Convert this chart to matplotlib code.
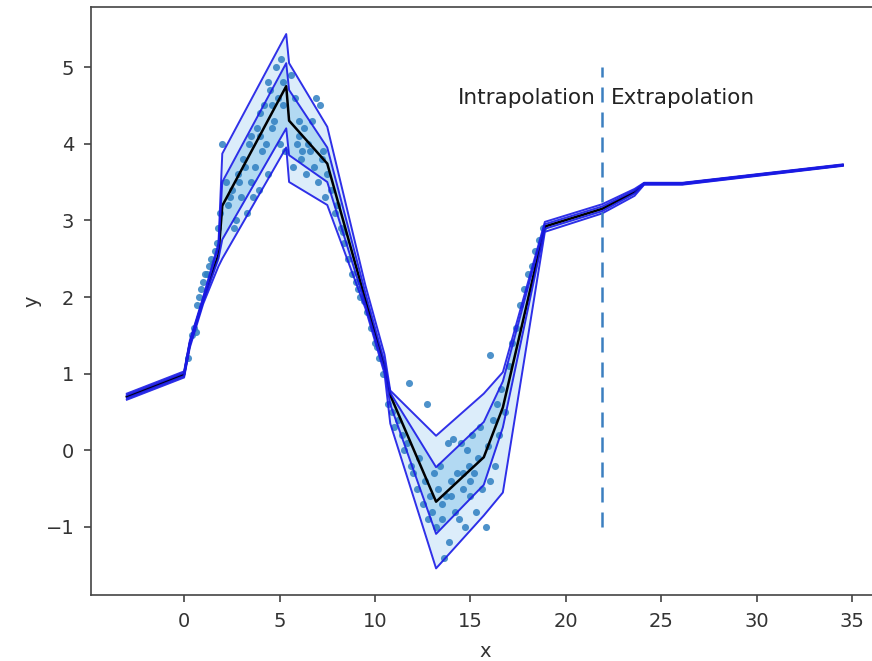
import matplotlib
matplotlib.use("Agg")
import matplotlib.pyplot as plt
import numpy as np

# Prediction grid and quantile predictions
x_grid = [-3.0, 0.0, 0.3, 1.0, 1.8, 2.0, 5.35, 5.5, 7.5, 9.5, 10.5, 10.8, 13.2, 15.7, 16.7, 18.9, 21.9, 23.6, 24.1, 26.1, 34.5]
q05 = [0.66, 0.95, 1.34, 1.91, 2.40, 2.50, 3.95, 3.50, 3.20, 1.85, 1.00, 0.35, -1.54, -0.85, -0.55, 2.85, 3.09, 3.32, 3.465, 3.465, 3.71]
q25 = [0.68, 0.97, 1.37, 1.94, 2.50, 2.75, 4.20, 3.85, 3.50, 1.90, 1.05, 0.60, -1.09, -0.45, 0.30, 2.89, 3.12, 3.35, 3.47, 3.47, 3.715]
q50 = [0.70, 0.99, 1.39, 1.96, 2.55, 3.19, 4.75, 4.30, 3.74, 1.96, 1.10, 0.72, -0.67, -0.09, 0.56, 2.92, 3.15, 3.37, 3.48, 3.48, 3.72]
q75 = [0.72, 1.01, 1.41, 1.98, 2.65, 3.50, 5.05, 4.70, 3.95, 2.05, 1.15, 0.75, -0.22, 0.37, 0.90, 2.95, 3.18, 3.39, 3.485, 3.485, 3.725]
q95 = [0.74, 1.03, 1.43, 2.00, 2.70, 3.87, 5.43, 5.05, 4.22, 2.15, 1.25, 0.78, 0.19, 0.74, 1.02, 2.98, 3.21, 3.41, 3.49, 3.49, 3.73]

# Observed training points
pts_x = [0.2, 0.4, 0.5, 0.6, 0.7, 0.8, 0.9, 1.0, 1.1, 1.2, 1.3, 1.4, 1.5, 1.6, 1.7, 1.8, 1.9,
         2.0, 2.2, 2.3, 2.5, 2.6, 2.7, 2.8, 3.0, 3.1, 3.3, 3.4, 3.5, 3.6, 3.7, 3.8, 3.9, 4.0, 4.1,
         4.2, 4.3, 4.4, 4.4, 4.5, 4.6, 4.7, 4.8, 4.9, 5.0, 5.1, 5.2, 5.3,
         2.4, 2.9, 3.2, 3.5, 4.0, 4.6, 5.2,
         5.6, 5.7, 5.8, 5.9, 6.0, 6.1, 6.2, 6.3, 6.4, 6.5, 6.6, 6.8, 6.9, 7.0, 7.1, 7.2, 7.4, 7.5,
         6.0, 6.7, 7.3,
         7.7, 7.9, 8.0, 8.2, 8.3, 8.4, 8.6, 8.8, 9.0, 9.1, 9.2, 9.4, 9.6, 9.8, 10.0, 10.1, 10.2, 10.4,
         10.7, 10.9, 11.0, 11.2, 11.4, 11.5, 11.7, 11.8, 11.9, 12.0, 12.2, 12.3, 12.5, 12.6, 12.7, 12.8,
         12.9, 13.0, 13.1, 13.2, 13.3, 13.4, 13.5, 13.6, 13.7, 13.8, 13.9, 14.0, 14.1, 14.2, 14.3,
         14.4, 14.5, 14.6, 14.7, 14.8, 14.9, 15.0, 15.1, 15.2, 15.3, 15.4, 15.5, 15.6, 15.8, 15.9,
         13.5, 14.0, 14.6, 15.0,
         16.0, 16.0, 16.2, 16.3, 16.4, 16.5, 16.6, 16.8, 17.0, 17.2, 17.4, 17.6, 17.8, 18.0, 18.2,
         18.4, 18.6, 18.8]
pts_y = [1.2, 1.5, 1.6, 1.55, 1.9, 2.0, 2.1, 2.2, 2.3, 2.3, 2.4, 2.5, 2.45, 2.6, 2.7, 2.9, 3.1,
         4.0, 3.5, 3.2, 3.4, 2.9, 3.0, 3.6, 3.3, 3.8, 3.1, 4.0, 3.5, 3.3, 3.7, 4.2, 3.4, 4.4, 3.9,
         4.5, 4.0, 3.6, 4.8, 4.7, 4.2, 4.3, 5.0, 4.6, 4.0, 5.1, 4.5, 3.9,
         3.3, 3.5, 3.7, 4.1, 4.1, 4.5, 4.8,
         4.9, 3.7, 4.6, 4.0, 4.3, 3.8, 3.9, 4.2, 3.6, 4.0, 3.9, 3.7, 4.6, 3.5, 4.5, 3.8, 3.3, 3.6,
         4.1, 4.3, 3.9,
         3.4, 3.1, 3.2, 2.9, 2.85, 2.7, 2.5, 2.3, 2.2, 2.1, 2.0, 1.95, 1.8, 1.6, 1.4, 1.35, 1.2, 1.0,
         0.6, 0.5, 0.3, 0.4, 0.2, 0.0, 0.1, 0.88, -0.2, -0.3, -0.5, -0.1, -0.7, -0.4, 0.6, -0.9,
         -0.6, -0.8, -0.3, -1.0, -0.5, -0.2, -0.9, -1.4, -0.6, 0.1, -1.2, -0.4, 0.15, -0.8, -0.3,
         -0.9, 0.1, -0.5, -1.0, 0.0, -0.2, -0.6, 0.2, -0.3, -0.8, -0.1, 0.3, -0.5, -1.0, 0.05,
         -0.7, -0.6, -0.3, -0.4,
         -0.4, 1.25, 0.4, -0.2, 0.6, 0.2, 0.8, 0.5, 1.1, 1.4, 1.6, 1.9, 2.1, 2.3, 2.4,
         2.6, 2.75, 2.9]

split_x = 21.9
text_y = 4.6

fig = plt.figure(figsize=(8.72, 6.61), dpi=100)
ax = fig.add_axes([0.1044, 0.0995, 0.903, 0.8896])

ax.fill_between(x_grid, q05, q95, color='#dcedfa', zorder=1, linewidth=0)
ax.fill_between(x_grid, q25, q75, color='#b2d9f2', zorder=1.5, linewidth=0)
ax.scatter(pts_x, pts_y, s=26, color='#2f7fc1', alpha=0.85, zorder=2, linewidths=0)
ax.plot(x_grid, q50, color='black', lw=1.8, zorder=3)
for q in (q05, q25, q75, q95):
    ax.plot(x_grid, q, color='#1a1ae6', lw=1.4, alpha=0.9, zorder=4)

ax.vlines(split_x, -1, 5, colors='#3b7fc0', linestyles=(0, (6, 4)), lw=1.8, zorder=5)
ax.text(split_x - 0.35, text_y, 'Intrapolation', ha='right', va='center', fontsize=15.5, color='#222222')
ax.text(split_x + 0.45, text_y, 'Extrapolation', ha='left', va='center', fontsize=15.5, color='#222222')

ax.set_xlim(-4.875, 36.375)
ax.set_ylim(-1.89, 5.78)
ax.set_xticks([0, 5, 10, 15, 20, 25, 30, 35])
ax.set_yticks([-1, 0, 1, 2, 3, 4, 5])
ax.tick_params(labelsize=14, length=5, width=1.1, colors='#333333', pad=7)
ax.set_xlabel('x', fontsize=14, color='#333333', labelpad=8)
ax.set_ylabel('y', fontsize=14, color='#333333', labelpad=3)
for s in ax.spines.values():
    s.set_linewidth(1.2)
    s.set_color('#444444')

fig.savefig('out.png', dpi=100)
